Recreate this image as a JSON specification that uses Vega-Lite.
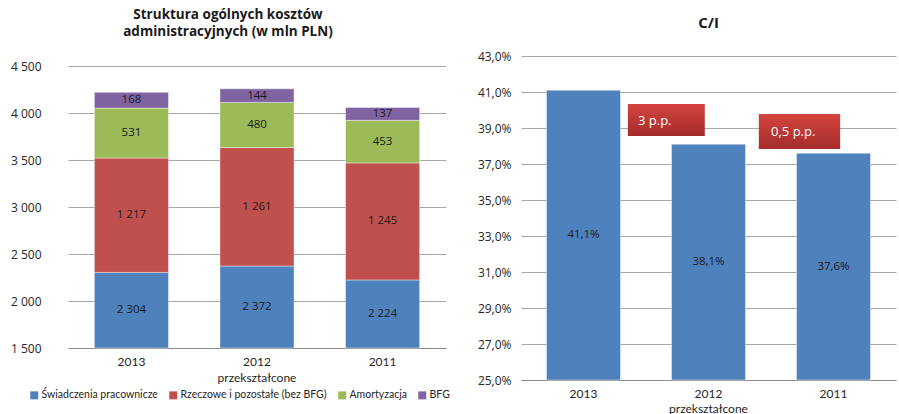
{
  "$schema": "https://vega.github.io/schema/vega-lite/v6.json",
  "padding": {"left": 10, "top": 7, "right": 1, "bottom": 1},
  "autosize": {"type": "pad"},
  "bounds": "flush",
  "spacing": 75,
  "config": {
    "locale": {"number": {"decimal": ",", "thousands": "\u00a0", "grouping": [3], "currency": ["", " zł"]}},
    "view": {"stroke": null},
    "axisX": {"title": null, "ticks": false, "domainColor": "#8c8c8c", "labelAngle": 0, "labelFont": "Lato", "labelFontSize": 12, "labelColor": "#262626", "labelPadding": 8, "labelLineHeight": 16, "grid": false},
    "axisY": {"title": null, "ticks": false, "domain": false, "grid": true, "gridColor": "#a8a8a8", "labelFont": "Open Sans", "labelFontSize": 12, "labelColor": "#262626", "tickCount": 20}
  },
  "hconcat": [
    {
      "width": 378,
      "height": 292,
      "title": {"text": ["Struktura ogólnych kosztów", "administracyjnych (w mln PLN)"], "font": "Open Sans", "fontSize": 13.5, "fontWeight": "bold", "lineHeight": 17, "anchor": "middle", "frame": "group", "dx": -29, "offset": 18, "color": "#1a1a1a"},
      "data": {"values": [
        {"rok": "2013", "kategoria": "Świadczenia pracownicze", "kolejnosc": 1, "wartosc": 2304},
        {"rok": "2013", "kategoria": "Rzeczowe i pozostałe (bez BFG)", "kolejnosc": 2, "wartosc": 1217},
        {"rok": "2013", "kategoria": "Amortyzacja", "kolejnosc": 3, "wartosc": 531},
        {"rok": "2013", "kategoria": "BFG", "kolejnosc": 4, "wartosc": 168},
        {"rok": "2012", "kategoria": "Świadczenia pracownicze", "kolejnosc": 1, "wartosc": 2372},
        {"rok": "2012", "kategoria": "Rzeczowe i pozostałe (bez BFG)", "kolejnosc": 2, "wartosc": 1261},
        {"rok": "2012", "kategoria": "Amortyzacja", "kolejnosc": 3, "wartosc": 480},
        {"rok": "2012", "kategoria": "BFG", "kolejnosc": 4, "wartosc": 144},
        {"rok": "2011", "kategoria": "Świadczenia pracownicze", "kolejnosc": 1, "wartosc": 2224},
        {"rok": "2011", "kategoria": "Rzeczowe i pozostałe (bez BFG)", "kolejnosc": 2, "wartosc": 1245},
        {"rok": "2011", "kategoria": "Amortyzacja", "kolejnosc": 3, "wartosc": 453},
        {"rok": "2011", "kategoria": "BFG", "kolejnosc": 4, "wartosc": 137}
      ]},
      "encoding": {
        "x": {"field": "rok", "type": "nominal", "scale": {"domain": ["2013", "2012", "2011"], "paddingInner": 0.41, "paddingOuter": 0.21},
              "axis": {"labelExpr": "datum.label == '2012' ? ['2012', 'przekształcone'] : datum.label"}}
      },
      "resolve": {"scale": {"y": "independent"}},
      "layer": [
        {
          "encoding": {
            "y": {"field": "wartosc", "type": "quantitative", "stack": "zero",
                  "scale": {"domain": [1500, 4500], "range": [292, 10], "clamp": true, "nice": false, "zero": false},
                  "axis": {"values": [1500, 2000, 2500, 3000, 3500, 4000, 4500], "format": ",.0f", "labelPadding": 27}},
            "order": {"field": "kolejnosc", "type": "quantitative"}
          },
          "layer": [
            {
              "mark": {"type": "bar", "stroke": "#ffffff", "strokeWidth": 0.6, "strokeOpacity": 0.7},
              "encoding": {
                "color": {"field": "kategoria", "type": "nominal",
                          "scale": {"domain": ["Świadczenia pracownicze", "Rzeczowe i pozostałe (bez BFG)", "Amortyzacja", "BFG"], "range": ["#4f81bd", "#c0504d", "#9bbb59", "#8064a2"]},
                          "legend": {"title": null, "orient": "none", "legendX": -39, "legendY": 334, "direction": "horizontal", "symbolType": "square", "symbolSize": 64, "symbolStrokeWidth": 0, "labelFont": "Lato", "labelFontSize": 10.5, "labelColor": "#262626", "labelOffset": 2, "columnPadding": 10}}
              }
            },
            {
              "mark": {"type": "text", "font": "Open Sans", "fontSize": 11.5, "color": "#1a1a1a", "baseline": "middle"},
              "encoding": {
                "detail": {"field": "kategoria"},
                "y": {"field": "wartosc", "type": "quantitative", "stack": "zero", "bandPosition": 0.5},
                "text": {"condition": {"test": "datum.kolejnosc == 1", "value": ""}, "field": "wartosc", "type": "quantitative", "format": ",.0f"}
              }
            }
          ]
        },
        {
          "transform": [{"filter": "datum.kolejnosc == 1"}],
          "mark": {"type": "text", "font": "Open Sans", "fontSize": 11.5, "color": "#1a1a1a", "baseline": "middle"},
          "encoding": {
            "y": {"field": "wartosc", "type": "quantitative", "scale": {"domain": [1500, 7500], "range": [292, 10], "nice": false, "zero": false}, "axis": null},
            "text": {"field": "wartosc", "type": "quantitative", "format": ",.0f"}
          }
        }
      ]
    },
    {
      "width": 375,
      "height": 324,
      "title": {"text": "C/I", "font": "Open Sans", "fontSize": 15, "fontWeight": "bold", "anchor": "middle", "frame": "group", "dx": 0, "offset": 19, "color": "#1a1a1a"},
      "data": {"values": [
        {"rok": "2013", "ci": 0.411},
        {"rok": "2012", "ci": 0.381},
        {"rok": "2011", "ci": 0.376}
      ]},
      "encoding": {
        "x": {"field": "rok", "type": "nominal", "scale": {"domain": ["2013", "2012", "2011"], "paddingInner": 0.408, "paddingOuter": 0.204},
              "axis": {"labelExpr": "datum.label == '2012' ? ['2012', 'przekształcone'] : datum.label", "labelLineHeight": 15, "labelPadding": 8}}
      },
      "resolve": {"scale": {"y": "independent"}},
      "layer": [
        {
          "encoding": {
            "y": {"field": "ci", "type": "quantitative", "stack": "zero",
                  "scale": {"domain": [0.25, 0.43], "clamp": true, "nice": false, "zero": false},
                  "axis": {"values": [0.25, 0.27, 0.29, 0.31, 0.33, 0.35, 0.37, 0.39, 0.41, 0.43], "format": ".1%", "labelPadding": 10}}
          },
          "layer": [
            {
              "mark": {"type": "bar", "color": "#4f81bd", "stroke": "#ffffff", "strokeWidth": 0.6, "strokeOpacity": 0.7}
            },
            {
              "data": {"values": [{"etykieta": "3 p.p.", "od": "2013", "do": "2012", "gora": 0.4033, "dol": 0.3856}]},
              "mark": {"type": "rect", "fill": {"gradient": "linear", "x1": 0, "y1": 0, "x2": 0, "y2": 1, "stops": [{"offset": 0, "color": "#d4443f"}, {"offset": 1, "color": "#a32c2a"}]}},
              "encoding": {
                "x": {"field": "od", "type": "nominal", "bandPosition": 1.10},
                "x2": {"field": "do", "bandPosition": 0.45},
                "y": {"field": "gora", "type": "quantitative", "stack": null},
                "y2": {"field": "dol"}
              }
            },
            {
              "data": {"values": [{"etykieta": "0,5 p.p.", "od": "2012", "do": "2011", "gora": 0.3978, "dol": 0.3783}]},
              "mark": {"type": "rect", "fill": {"gradient": "linear", "x1": 0, "y1": 0, "x2": 0, "y2": 1, "stops": [{"offset": 0, "color": "#d4443f"}, {"offset": 1, "color": "#a32c2a"}]}},
              "encoding": {
                "x": {"field": "od", "type": "nominal", "bandPosition": 1.18},
                "x2": {"field": "do", "bandPosition": 0.59},
                "y": {"field": "gora", "type": "quantitative", "stack": null},
                "y2": {"field": "dol"}
              }
            },
            {
              "data": {"values": [{"etykieta": "3 p.p.", "od": "2013", "gora": 0.4033}]},
              "mark": {"type": "text", "font": "Open Sans", "fontSize": 13, "color": "#ffffff", "align": "left", "baseline": "middle", "dy": 17},
              "encoding": {
                "x": {"field": "od", "type": "nominal", "bandPosition": 1.236},
                "y": {"field": "gora", "type": "quantitative", "stack": null},
                "text": {"field": "etykieta"}
              }
            },
            {
              "data": {"values": [{"etykieta": "0,5 p.p.", "od": "2012", "gora": 0.3978}]},
              "mark": {"type": "text", "font": "Open Sans", "fontSize": 13, "color": "#ffffff", "align": "left", "baseline": "middle", "dy": 18},
              "encoding": {
                "x": {"field": "od", "type": "nominal", "bandPosition": 1.345},
                "y": {"field": "gora", "type": "quantitative", "stack": null},
                "text": {"field": "etykieta"}
              }
            }
          ]
        },
        {
          "mark": {"type": "text", "font": "Open Sans", "fontSize": 11.5, "color": "#1a1a1a", "baseline": "middle"},
          "encoding": {
            "y": {"field": "ci", "type": "quantitative", "scale": {"domain": [0.25, 0.61], "nice": false, "zero": false}, "axis": null},
            "text": {"field": "ci", "type": "quantitative", "format": ".1%"}
          }
        }
      ]
    }
  ]
}
